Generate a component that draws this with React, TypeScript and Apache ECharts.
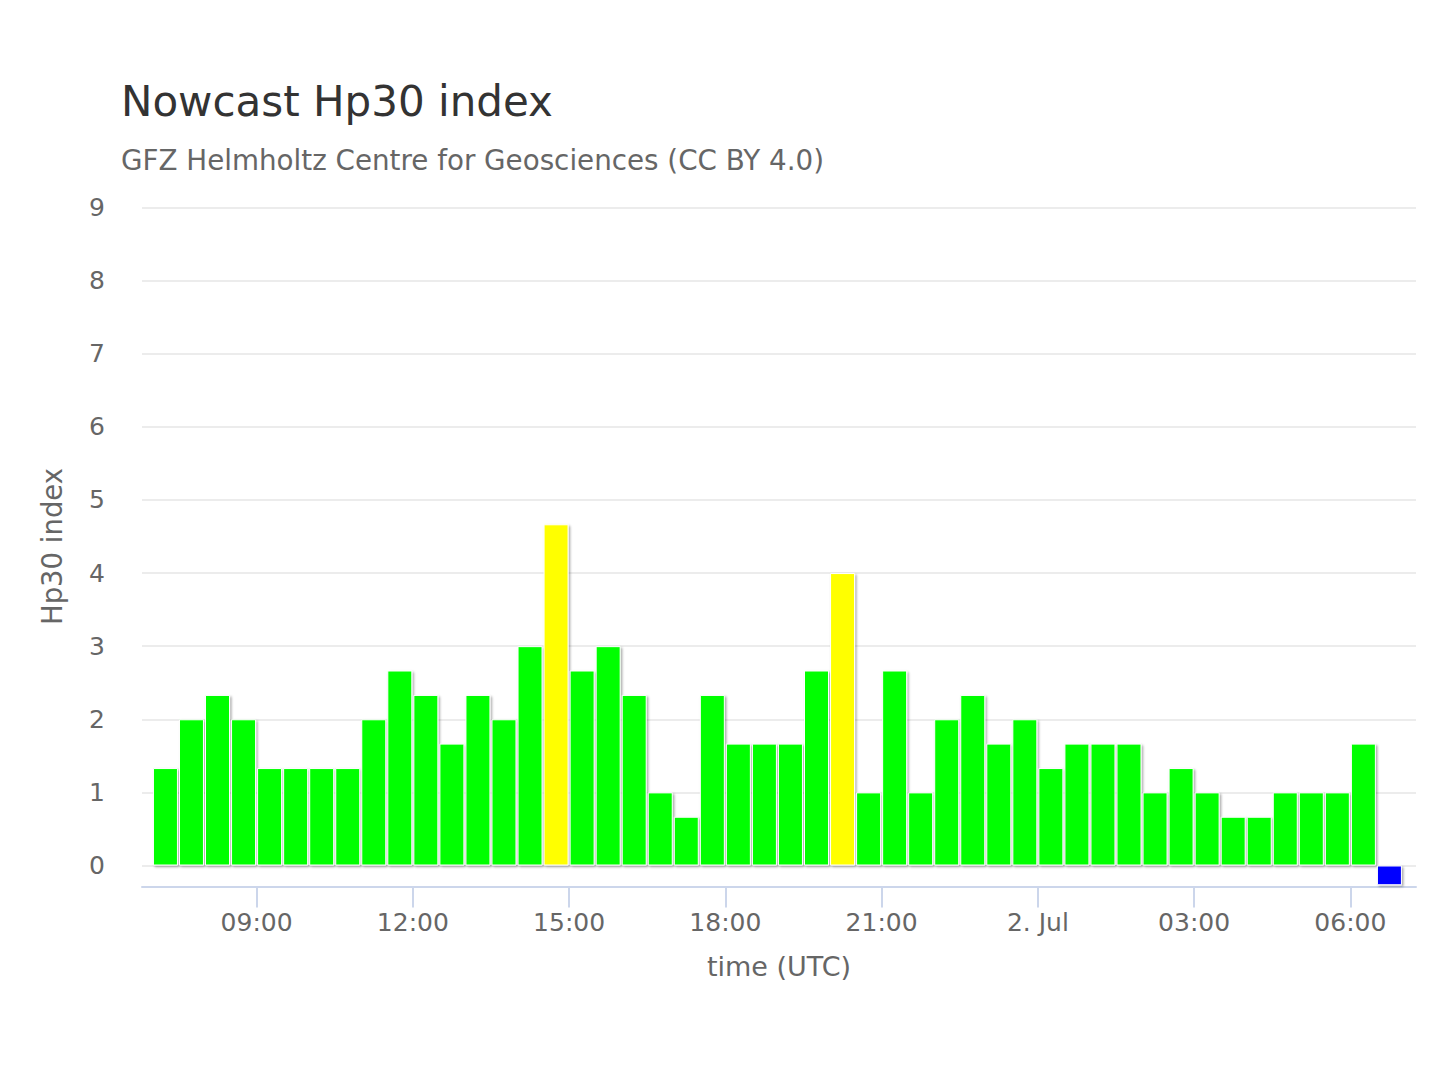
import React, { useEffect, useRef } from "react";
import * as echarts from "echarts";

// Half-hour slots, hours since 1 Jul 00:00 UTC (bar centres)
const slotHours = [
  7.25, 7.75, 8.25, 8.75, 9.25, 9.75, 10.25, 10.75, 11.25, 11.75, 12.25, 12.75,
  13.25, 13.75, 14.25, 14.75, 15.25, 15.75, 16.25, 16.75, 17.25, 17.75, 18.25, 18.75,
  19.25, 19.75, 20.25, 20.75, 21.25, 21.75, 22.25, 22.75, 23.25, 23.75, 24.25, 24.75,
  25.25, 25.75, 26.25, 26.75, 27.25, 27.75, 28.25, 28.75, 29.25, 29.75, 30.25, 30.75,
];

const hp30Values = [
  1.333, 2, 2.333, 2, 1.333, 1.333, 1.333, 1.333, 2, 2.667, 2.333, 1.667,
  2.333, 2, 3, 4.667, 2.667, 3, 2.333, 1, 0.667, 2.333, 1.667, 1.667,
  1.667, 2.667, 4, 1, 2.667, 1, 2, 2.333, 1.667, 2, 1.333, 1.667,
  1.667, 1.667, 1, 1.333, 1, 0.667, 0.667, 1, 1, 1, 1.667, -0.27,
];

const xTickHours = [9, 12, 15, 18, 21, 24, 27, 30];
const dayChangeLabel = "2. Jul";

const FONT = "DejaVu Sans";

export default function App() {
  const ref = useRef<HTMLDivElement>(null);

  useEffect(() => {
    if (!ref.current) return;
    const chart = echarts.init(ref.current, undefined, { renderer: "svg" });
    const data = slotHours.map((h, i) => [h, hp30Values[i]]);
    const fmt = (v: number) => {
      if (v % 24 === 0) return dayChangeLabel;
      const hh = v % 24;
      return (hh < 10 ? "0" : "") + hh + ":00";
    };
    chart.setOption({
      animation: false,
      backgroundColor: "#ffffff",
      textStyle: { fontFamily: FONT },
      title: [
        {
          text: "Nowcast Hp30 index",
          left: 121,
          top: 80,
          padding: 0,
          textStyle: { fontFamily: FONT, fontSize: 42, fontWeight: "normal", color: "#333333" },
        },
        {
          text: "GFZ Helmholtz Centre for Geosciences (CC BY 4.0)",
          left: 121,
          top: 146,
          padding: 0,
          textStyle: { fontFamily: FONT, fontSize: 27.75, fontWeight: "normal", color: "#666666" },
        },
      ],
      grid: { left: 142, right: 24, top: 207.5, bottom: 1080 - 865.5, containLabel: false },
      xAxis: {
        type: "value",
        min: 6.8,
        max: 31.26,
        offset: 21,
        name: "time (UTC)",
        nameLocation: "middle",
        nameGap: 66,
        nameTextStyle: { fontFamily: FONT, fontSize: 27, color: "#666666" },
        axisLine: { show: true, onZero: false, lineStyle: { color: "#ccd6eb", width: 2 } },
        axisTick: { show: true, length: 21, lineStyle: { color: "#ccd6eb", width: 2 }, customValues: xTickHours },
        axisLabel: {
          customValues: xTickHours,
          formatter: fmt,
          margin: 23,
          fontFamily: FONT,
          fontSize: 25,
          color: "#666666",
        },
        splitLine: { show: false },
      },
      yAxis: {
        type: "value",
        min: 0,
        max: 9,
        interval: 1,
        name: "Hp30 index",
        nameLocation: "middle",
        nameGap: 76,
        nameRotate: 90,
        nameTextStyle: { fontFamily: FONT, fontSize: 27.5, color: "#666666", padding: [0, 20, 0, 0] },
        axisLine: { show: false },
        axisTick: { show: false },
        axisLabel: { margin: 37, fontFamily: FONT, fontSize: 25, color: "#666666" },
        splitLine: { show: true, lineStyle: { color: "#e6e6e6", width: 1.5 } },
      },
      series: [
        {
          type: "bar",
          data,
          barWidth: 25,
          clip: false,
          itemStyle: {
            color: (p: any) => {
              const v = p.value[1];
              if (v < 0) return "#0000ff";
              if (v >= 4) return "#ffff00";
              return "#00ff00";
            },
            borderColor: "#ffffff",
            borderWidth: 1,
            shadowColor: "rgba(0,0,0,0.35)",
            shadowBlur: 2,
            shadowOffsetX: 1.5,
            shadowOffsetY: 1.5,
          },
        },
      ],
    });
    return () => chart.dispose();
  }, []);

  return (
    <div
      ref={ref}
      style={{ position: "fixed", left: 0, top: 0, width: 1440, height: 1080, background: "#fff" }}
    />
  );
}
